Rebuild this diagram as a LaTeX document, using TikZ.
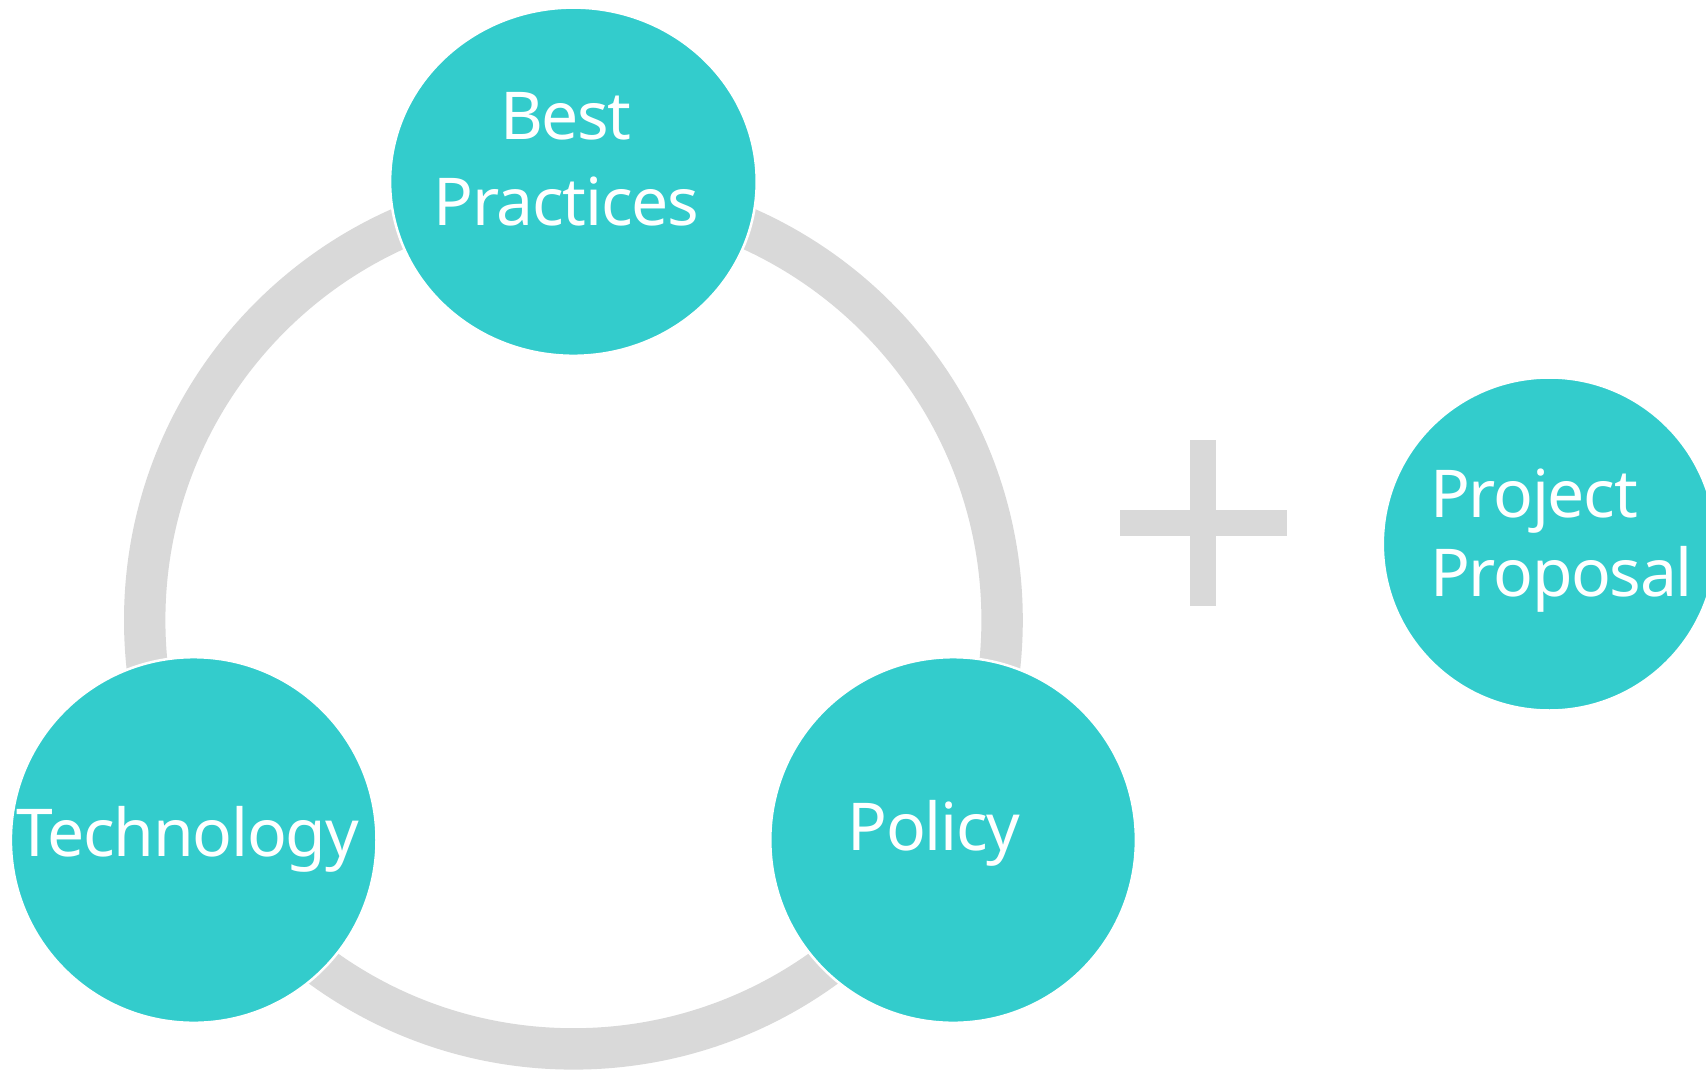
\documentclass[tikz,border=0pt]{standalone}
\usepackage{fontspec}
\setmainfont{Noto Sans}[LetterSpace=-2]
\usetikzlibrary{shapes.geometric}
\definecolor{teal1}{HTML}{33CCCC}
\definecolor{ringgrey}{HTML}{D9D9D9}
\tikzset{
  bubble/.style={circle, fill=teal1, draw=white, line width=2.5pt, inner sep=0pt, minimum size=#1},
  oval/.style={ellipse, fill=teal1, draw=white, line width=2.5pt, inner sep=0pt},
  lbl/.style={text=white, inner sep=0pt, font=\fontsize{66}{80}\selectfont},
  bar/.style={fill=ringgrey, draw=none}
}
\begin{document}
\begin{tikzpicture}[x=1pt, y=-1pt]
\clip (0,0) rectangle (1706,1070);
\fill[white] (0,0) rectangle (1706,1070);
% ring
\draw[ringgrey, line width=41.4pt] (573.4,620.2) circle[radius=428.7pt];
% nodes
\node[oval, minimum width=366.6pt, minimum height=348.2pt] (best) at (573.4,181.7) {};
\node[bubble=365.6pt] (tech) at (193.7,840) {};
\node[bubble=365.6pt] (policy) at (953.1,840) {};
\node[bubble=333pt] (proj) at (1549.3,544) {};
% plus
\fill[bar] (1119.6,510.3) rectangle (1287.1,536.4);
\fill[bar] (1190.3,439.6) rectangle (1216.4,606);
% labels
\node[lbl, anchor=base] (tBest) at (565.8,139.3) {Best};
\node[lbl, anchor=base] (tPrac) at (566.3,225.2) {Practices};
\node[lbl, anchor=base] (tTech) at (187.7,856.3) {Technology};
\node[lbl, anchor=base] (tPol) at (934,850.8) {Policy};
\node[lbl, anchor=base west] (tProj) at (1430,517.9) {Project};
\node[lbl, anchor=base west] (tProp) at (1430,596.2) {Proposal};
\end{tikzpicture}
\end{document}
